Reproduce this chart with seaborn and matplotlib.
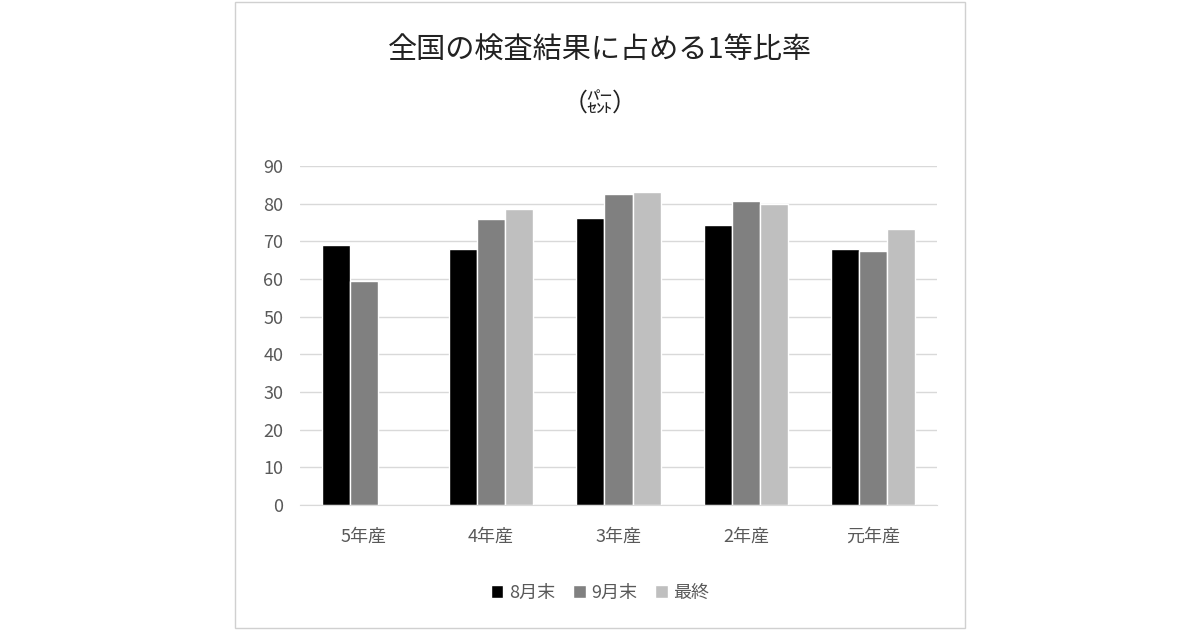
import matplotlib
matplotlib.use("Agg")
import matplotlib.pyplot as plt
import seaborn as sns
import pandas as pd
from matplotlib.patches import Rectangle

years = ["5年産", "4年産", "3年産", "2年産", "元年産"]
series = ["8月末", "9月末", "最終"]
aug = [69.0, 68.0, 76.2, 74.3, 68.0]
sep = [59.5, 75.9, 82.6, 80.7, 67.4]
final = [None, 78.6, 83.1, 79.9, 73.3]
colors = ["#000000", "#808080", "#bfbfbf"]

rows = []
for i, y in enumerate(years):
    for s, vals in zip(series, [aug, sep, final]):
        if vals[i] is not None:
            rows.append({"year": y, "series": s, "value": vals[i]})
df = pd.DataFrame(rows)

sns.set_style("white")
plt.rcParams['font.family'] = ['Noto Sans CJK JP', 'DejaVu Sans']

fig = plt.figure(figsize=(12, 6.3), dpi=100)
fig.patches.append(Rectangle((235 / 1200, 2 / 630), 730 / 1200, 626 / 630,
                             transform=fig.transFigure, fill=False,
                             edgecolor="#d0d0d0", linewidth=1))
ax = fig.add_axes([300 / 1200, 1 - 505 / 630, 637 / 1200, 339 / 630])
sns.barplot(data=df, x="year", y="value", hue="series", order=years,
            hue_order=series, palette=colors, width=0.66, saturation=1,
            ax=ax, legend=True)
ax.set_ylim(0, 90)
ax.set_yticks(range(0, 91, 10))
ax.yaxis.grid(True, color="#d9d9d9", linewidth=1)
ax.set_axisbelow(True)
for sp in ["top", "right", "left"]:
    ax.spines[sp].set_visible(False)
ax.spines["bottom"].set_color("#d9d9d9")
ax.set_xlabel("")
ax.set_ylabel("")
ax.tick_params(axis="both", labelsize=13, colors="#595959", length=0, pad=12)
ax.tick_params(axis="x", pad=16)

fig.text(600 / 1200, 1 - 50 / 630, "全国の検査結果に占める1等比率", ha="center",
         va="center", fontsize=21, color="#222222")
fig.text(600 / 1200, 1 - 105 / 630, "（㌫）", ha="center", va="center",
         fontsize=18, color="#222222")

ax.legend(loc="center", bbox_to_anchor=(600 / 1200, 1 - 593 / 630),
          bbox_transform=fig.transFigure, ncol=3, frameon=False,
          fontsize=13, handlelength=0.7, handleheight=0.7, columnspacing=1.0,
          handletextpad=0.3, labelcolor="#595959")

fig.savefig("out.png", dpi=100)
